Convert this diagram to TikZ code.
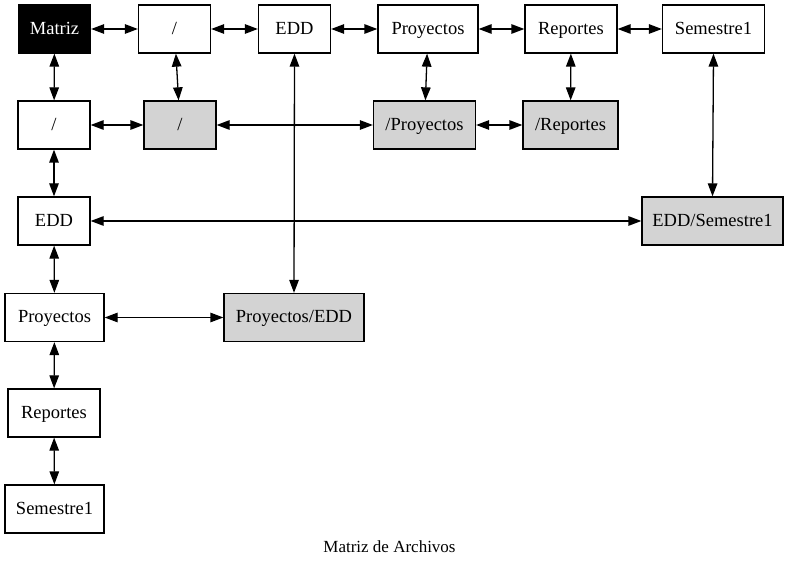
\documentclass[tikz,border=0pt]{standalone}
\usepackage{fontspec}
\setmainfont{Liberation Serif}
\usetikzlibrary{arrows.meta}
\definecolor{lgray}{HTML}{D3D3D3}
\tikzset{
  box/.style={draw=black, line width=1.3pt, rectangle, minimum height=48pt, inner sep=0pt,
    text height=13.5pt, text depth=3.2pt, font=\fontsize{18.5}{22}\selectfont, fill=white},
  gbox/.style={box, fill=lgray},
  conn/.style={line width=1.3pt, {Triangle[length=13pt,width=9.5pt]}-{Triangle[length=13pt,width=9.5pt]}}
}
\begin{document}
\begin{tikzpicture}[x=1pt,y=-1pt]
\useasboundingbox (0,0) rectangle (789,569);
\fill[white] (0,0) rectangle (789,569);
% top row
\node[box, fill=black, text=white, minimum width=72pt] (matriz) at (54.5,29) {Matriz};
\node[box, minimum width=72pt] (slashA) at (174.5,29) {/};
\node[box, minimum width=72pt] (eddA) at (294.5,29) {EDD};
\node[box, minimum width=100pt] (proyA) at (428,29) {Proyectos};
\node[box, minimum width=92pt] (repA) at (571,29) {Reportes};
\node[box, minimum width=102pt] (semA) at (713.5,29) {Semestre1};
% second row
\node[box, minimum width=72pt] (slashB) at (54,125) {/};
\node[gbox, minimum width=72pt] (slashG) at (180,125) {/};
\node[gbox, minimum width=102pt] (proyG) at (424.5,125) {/Proyectos};
\node[gbox, minimum width=95pt] (repG) at (570.5,125) {/Reportes};
% third row
\node[box, minimum width=72pt] (eddB) at (54,221) {EDD};
\node[gbox, minimum width=141pt] (eddSem) at (712.5,221) {EDD/Semestre1};
% fourth row
\node[box, minimum width=99pt] (proyB) at (54.5,317.5) {Proyectos};
\node[gbox, minimum width=140pt] (proyEdd) at (294,317.5) {Proyectos/EDD};
% fifth, sixth
\node[box, minimum width=92pt] (repB) at (54,413) {Reportes};
\node[box, minimum width=99pt] (semB) at (54.5,509) {Semestre1};
% caption
\node[font=\fontsize{17}{20}\selectfont, inner sep=0pt, text height=12pt, text depth=3pt] (cap) at (389.5,548) {Matriz de Archivos};
% edges
\draw[conn] (matriz) -- (slashA);
\draw[conn] (slashA) -- (eddA);
\draw[conn] (eddA) -- (proyA);
\draw[conn] (proyA) -- (repA);
\draw[conn] (repA) -- (semA);
\draw[conn] (matriz) -- (slashB);
\draw[conn] (slashB) -- (eddB);
\draw[conn] (eddB) -- (proyB);
\draw[conn] (proyB) -- (repB);
\draw[conn] (repB) -- (semB);
\draw[conn] (slashB) -- (slashG);
\draw[conn] (slashG) -- (proyG);
\draw[conn] (proyG) -- (repG);
\draw[conn] (slashA) -- (slashG);
\draw[conn] (proyA) -- (proyG);
\draw[conn] (repA) -- (repG);
\draw[conn] (eddA.south) -- (proyEdd.north);
\draw[conn] (semA.south) -- (eddSem.north);
\draw[conn] (eddB) -- (eddSem);
\draw[conn] (proyB) -- (proyEdd);
\end{tikzpicture}
\end{document}
